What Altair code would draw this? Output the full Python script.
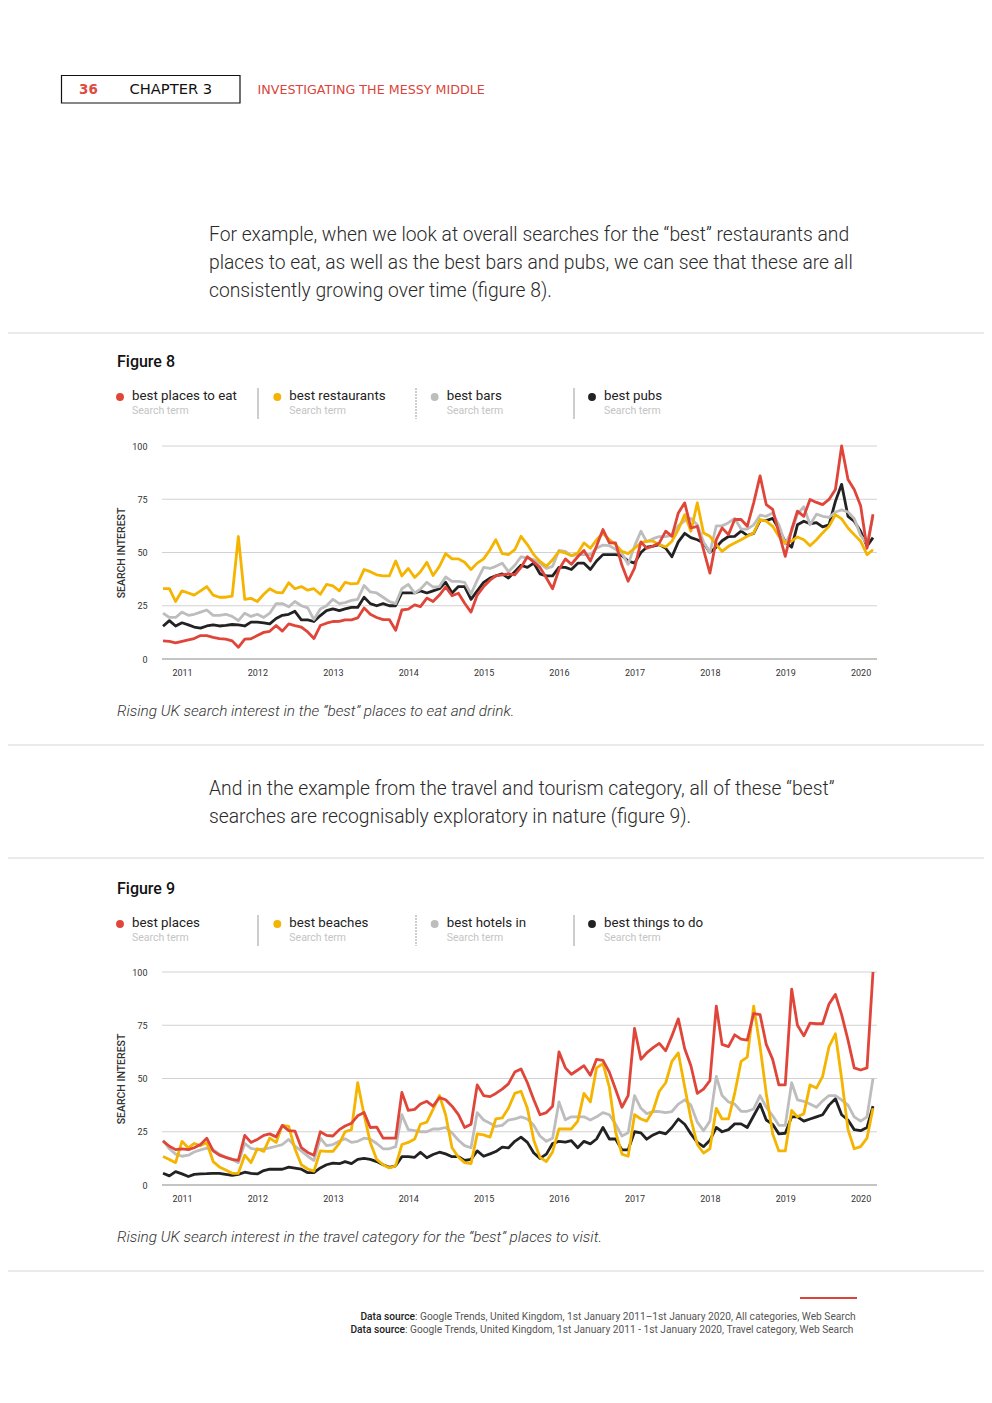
import altair as alt
import pandas as pd

# ------------------------------------------------------------------ data
START = "2010-10-01"          # first monthly point
N_MONTHS = 114
YEAR_TICKS = list(range(2011, 2021))
Y_TICKS = [0, 25, 50, 75, 100]
GRID_TICKS = [25, 50, 75, 100]
BASE_TICK = [0]

TERMS8 = ["best places to eat", "best restaurants", "best bars", "best pubs"]
TERMS9 = ["best places", "best beaches", "best hotels in", "best things to do"]
COLORS = ["#e0453a", "#f4b400", "#bdbdbd", "#222222"]
SUBTITLE = "Search term"

places_to_eat = [
    8.5, 8.3, 7.6, 8.3, 9, 9.6, 11, 11, 10.2, 9.6,
    9.3, 8.5, 5.5, 9.3, 9.5, 11, 12.5, 13, 15.7, 13.1,
    16.5, 15.7, 15, 12.7, 9.6, 15.7, 16.8, 17.6, 17.7, 18.4,
    18.4, 19.3, 24, 21, 19.5, 18.5, 18.5, 13.5, 23, 23.4,
    25.4, 24.6, 28.6, 27, 30, 33.8, 29.7, 30.9, 26.2, 22,
    30, 34, 37, 39, 39.5, 40, 39.5, 43, 48, 45.5,
    43, 38, 33, 42, 47, 44.5, 48, 51, 46, 53,
    60.8, 54.5, 54.5, 44, 36.5, 42.7, 55, 52, 53, 54.5,
    60, 57.6, 68.6, 73.3, 61.5, 62.3, 51.3, 40.3, 56, 61.5,
    58.4, 65.5, 65.5, 62.3, 73.3, 86, 72.5, 70.2, 59.2, 48.2,
    60.8, 69.4, 67, 74.9, 73.5, 72.5, 74.9, 79.6, 100, 84.3,
    79.6, 72, 52, 68]
restaurants = [
    33, 33, 27, 32, 31, 30, 32, 34, 30, 29,
    29, 29.5, 57.5, 28, 28.5, 27, 30.4, 33, 31.3, 31,
    35.8, 33, 34, 32.3, 33, 30.4, 35, 34.3, 32, 36,
    35.3, 35.5, 42, 41, 39.5, 39, 39, 46, 39, 42.5,
    38.3, 41, 45.4, 39.2, 43.5, 49.5, 47, 47, 45.4, 42,
    45, 47, 51.3, 56, 49.5, 49, 51.3, 57.6, 53.7, 49,
    45.8, 43.5, 46.6, 50.5, 49.8, 48.5, 49.8, 54.5, 52, 56,
    59, 56, 53.7, 50.5, 49.5, 52, 54.5, 55.3, 55.3, 53.7,
    52.6, 55.3, 60.8, 67.8, 60, 73.3, 59.2, 57.6, 53.7, 50.5,
    52.9, 54.5, 56, 57.6, 59.2, 65.5, 64.7, 62.3, 57.6, 54.5,
    55.3, 57.3, 56, 53.2, 56, 59.2, 62.3, 67.8, 65.8, 61.5,
    58.4, 55.3, 49, 51.3]
bars = [
    21.5, 19.5, 19.5, 22, 20.5, 21, 22, 23, 20.5, 20.5,
    21, 20, 18, 21.5, 20, 21, 19.5, 21.5, 26, 26,
    24.5, 27, 25, 24, 18.5, 23.5, 25, 28, 26, 26.5,
    27.5, 28, 34.5, 31.5, 31, 29, 27, 26, 33, 35,
    31, 32.8, 36, 33.8, 34, 38.5, 36.4, 36.4, 36, 30.5,
    37, 43, 42.5, 43.5, 45, 41, 44, 48, 47.5, 46.6,
    45, 42.5, 43.5, 51, 50.5, 48.5, 49, 49, 49, 52,
    53.5, 53.2, 51.5, 49.5, 44.5, 53, 60, 55, 56.5, 57.5,
    57.5, 58, 62.5, 65, 66, 63, 55, 50, 62.5, 62.5,
    64, 66, 61, 61, 63, 67.5, 67, 68.5, 63, 54,
    60, 68, 71.5, 63, 68, 67, 66.5, 69, 70, 69,
    66, 58, 54, 67]
pubs = [
    15.4, 18, 15.5, 17, 16, 15, 14.5, 15.5, 16, 15.5,
    15.8, 16.2, 16, 15.5, 17.3, 17.3, 17, 16.5, 19, 20.5,
    21, 22.4, 18.4, 18.4, 17.6, 20.4, 22.7, 23.5, 22.7, 23.5,
    24.2, 24.2, 29, 26, 25, 26, 25, 25, 31, 31,
    31, 32, 31, 32, 33, 36, 31, 34, 34, 28,
    32, 36, 38, 39, 40, 38, 41, 44, 43, 45,
    40, 39, 39, 43, 43, 42, 45, 45, 42, 46,
    49, 49, 49, 48.5, 46, 45, 50, 52.5, 53, 53.7,
    52, 48, 55, 59, 57, 56, 54.5, 50, 52.5, 55.5,
    57.5, 57.6, 60, 58, 59, 65, 65, 66, 61, 55,
    52.5, 63, 64.7, 63.5, 64, 62, 63, 74, 82, 67,
    64.7, 60, 53, 57]

places = [
    20.6, 18.2, 16.6, 17, 16.6, 17.5, 19, 22, 16, 14,
    13, 12, 11.6, 23.3, 20, 21.4, 23.3, 24, 22.6, 28,
    25.5, 25.3, 17.5, 15.3, 14, 25, 23.3, 23, 26, 27.7,
    29, 32.5, 34, 27, 27.2, 22, 22, 22, 43.5, 35,
    35.5, 38, 39.3, 37, 41, 40, 37, 33, 27, 28.5,
    47, 42, 41.5, 43, 45, 47.5, 53, 54.5, 48, 40,
    33, 34, 37, 62.5, 55, 52, 54, 56, 51.5, 59,
    58.5, 53, 45, 36.5, 42, 73.5, 59, 62, 64.5, 66.5,
    63, 70, 78, 64, 56, 43, 45, 49, 84, 66,
    65, 70.5, 68.5, 68, 80.5, 80, 66, 59, 47, 47,
    92, 75, 70, 76, 75.7, 75.7, 85, 89.5, 80, 68,
    55, 54, 55, 100]
beaches = [
    13.4, 12, 10.5, 20.5, 17.4, 19.5, 18.5, 19.8, 11, 8.5,
    7, 5.5, 5.5, 14, 10.5, 17, 15.8, 22, 20, 28,
    27.5, 17, 9.5, 7.5, 6.5, 16, 15.8, 15.8, 19.5, 25,
    26, 48, 33, 20, 12, 9.5, 8, 9, 19, 20,
    21.6, 28.5, 29.5, 35.5, 42, 33, 17.5, 13, 10.5, 10,
    24, 23.5, 22.5, 31, 31.5, 36, 43, 44, 36, 21,
    13, 11, 15.5, 26.3, 26.3, 26.3, 30, 43, 39, 55,
    57, 46, 25, 14.5, 13.5, 33, 31, 30, 35, 44,
    48, 58, 62, 46, 31, 19, 15, 17, 36, 31,
    31, 43, 58, 60, 84, 65, 43, 24, 16, 16,
    35, 32, 33.5, 47, 45.5, 51, 65, 71, 50, 26,
    17, 18, 22, 36]
hotels_in = [
    21, 17, 14.5, 13.5, 14, 15.5, 16.5, 17.3, 16.5, 14.5,
    13, 12, 10.5, 19.5, 17.2, 16.6, 16.9, 17.4, 18.2, 19,
    21.4, 18.2, 16, 13.5, 11.5, 22, 18.5, 19, 20.5, 21.7,
    20, 20.5, 22, 21.5, 19.5, 17, 17, 18, 33, 26,
    25.5, 25, 25, 26.3, 26.3, 27, 24.5, 21, 18.5, 17.5,
    34, 30.5, 29, 27.5, 28, 30.5, 31, 32, 31, 28,
    23, 20.5, 22, 39, 30.6, 32, 32, 32, 30.5, 32,
    34, 33, 28.5, 23, 24.5, 42, 36, 33.5, 34.5, 34.5,
    34, 34.5, 38, 40, 37.5, 29.5, 25.5, 30, 51, 42,
    39, 38, 34.6, 34.6, 35.7, 42, 36.5, 32.5, 28, 28,
    48, 40, 39.3, 38, 36.5, 39.5, 42, 42, 40, 37.5,
    32, 30, 32, 50]
things_to_do = [
    5.5, 4.3, 6.3, 5.2, 4, 5, 5.2, 5.3, 5.5, 5.5,
    5, 4.5, 5, 6, 5.5, 5.2, 6.8, 7.4, 7.4, 7.4,
    8.4, 7.9, 7.4, 5.8, 5.8, 8, 9.5, 10.3, 10, 11,
    10, 12, 12.5, 12, 11, 9.5, 8.3, 9, 13.3, 13.3,
    13, 15.4, 12.8, 14.3, 15.4, 14.6, 13.3, 13.3, 11.5, 12,
    16, 13.5, 14.6, 15.7, 17.8, 17.4, 20.5, 22.5, 20, 15,
    12.5, 14.5, 19.5, 20.5, 20.1, 20.8, 17.5, 20.5, 19.3, 21.6,
    27, 21.6, 21.6, 16.5, 16.5, 25, 24.5, 21.5, 23.5, 24.8,
    24, 27, 31, 28.5, 24, 20, 18, 21, 27, 25,
    26, 28.7, 28.7, 27, 32.5, 38, 30.5, 28.5, 24, 24.3,
    32, 32, 30, 31, 32, 33, 37.5, 40.5, 33, 30.5,
    26, 25.5, 27, 37]

# page texts
HEADER_NUM = "36"
HEADER_CHAPTER = "CHAPTER 3"
HEADER_SECTION = "INVESTIGATING THE MESSY MIDDLE"
PARA1 = ["For example, when we look at overall searches for the \u201cbest\u201d restaurants and",
         "places to eat, as well as the best bars and pubs, we can see that these are all",
         "consistently growing over time (figure 8)."]
PARA2 = ["And in the example from the travel and tourism category, all of these \u201cbest\u201d",
         "searches are recognisably exploratory in nature (figure 9)."]
FIG8 = "Figure 8"
FIG9 = "Figure 9"
YTITLE = "SEARCH INTEREST"
CAP8 = "Rising UK search interest in the \u201cbest\u201d places to eat and drink."
CAP9 = "Rising UK search interest in the travel category for the \u201cbest\u201d places to visit."
SRC_LABEL = "Data source"
SRC1 = ": Google Trends, United Kingdom, 1st January 2011\u20131st January 2020, All categories, Web Search"
SRC2 = ": Google Trends, United Kingdom, 1st January 2011 - 1st January 2020, Travel category, Web Search"

W, H = 976, 1370
FONT = "Roboto"
HFONT = "DejaVu Sans"
RED = "#d9453b"


# ------------------------------------------------------------------ helpers
def txt(s, x, y, size, color="#222222", weight="normal", style="normal",
        align="left", angle=0, font=FONT):
    kw = dict(align=align, baseline="middle", fontSize=size, color=color,
              fontWeight=weight, fontStyle=style, font=font)
    if angle:
        kw["angle"] = angle
    return alt.Chart(pd.DataFrame({"t": [s]})).mark_text(**kw).encode(
        text="t:N", x=alt.value(x), y=alt.value(y))


def hline(x1, x2, y, color, w):
    return alt.Chart(pd.DataFrame({"k": [0]})).mark_rule(
        color=color, strokeWidth=w).encode(
        x=alt.value(x1), x2=alt.value(x2), y=alt.value(y))


def vline(x, y1, y2, color, w, dash=None):
    kw = dict(color=color, strokeWidth=w)
    if dash:
        kw["strokeDash"] = dash
    return alt.Chart(pd.DataFrame({"k": [0]})).mark_rule(**kw).encode(
        x=alt.value(x), y=alt.value(y1), y2=alt.value(y2))


def long_df(terms, series):
    dates = pd.date_range(START, periods=N_MONTHS, freq="MS")
    frames = []
    for t, s in list(zip(terms, series))[::-1]:
        frames.append(pd.DataFrame({"date": dates, "value": s, "term": t}))
    return pd.concat(frames, ignore_index=True)


def legend_layers(terms, y_lab, y_sub, y_dot, y_s1, y_s2):
    ldf = pd.DataFrame({"term": terms, "sub": [SUBTITLE] * len(terms)})
    dots = alt.Chart(ldf).mark_point(filled=True, opacity=1, size=62, shape="circle").encode(
        x=alt.X("term:N", scale=alt.Scale(type="point", domain=terms, range=[112, 584], padding=0), axis=None),
        y=alt.value(y_dot),
        color=alt.Color("term:N", scale=alt.Scale(domain=terms, range=COLORS), legend=None))
    xl = alt.X("term:N", scale=alt.Scale(type="point", domain=terms, range=[124, 596], padding=0), axis=None)
    labs = alt.Chart(ldf).mark_text(align="left", baseline="middle", fontSize=13.3,
                                    color="#222222", font=FONT).encode(
        x=xl, y=alt.value(y_lab), text="term:N")
    subs = alt.Chart(ldf).mark_text(align="left", baseline="middle", fontSize=10.5,
                                    color="#c4c4c4", font=FONT).encode(
        x=xl, y=alt.value(y_sub), text="sub:N")
    seps = [vline(250, y_s1, y_s2, "#bdbdbd", 1.5),
            vline(408, y_s1, y_s2, "#bdbdbd", 1.5, dash=[2, 1]),
            vline(566, y_s1, y_s2, "#bdbdbd", 1.5)]
    return [dots, labs, subs] + seps


def chart_layers(terms, series, y0, y100, title_y):
    df = long_df(terms, series)
    yscale = alt.Scale(domain=[0, 100], range=[y0, y100])
    grid = alt.Chart(pd.DataFrame({"v": GRID_TICKS})).mark_rule(color="#d2d2d2", strokeWidth=1).encode(
        y=alt.Y("v:Q", scale=yscale, axis=None), x=alt.value(154), x2=alt.value(869))
    base = alt.Chart(pd.DataFrame({"v": BASE_TICK})).mark_rule(color="#c4c4c4", strokeWidth=2.2).encode(
        y=alt.Y("v:Q", scale=yscale, axis=None), x=alt.value(154), x2=alt.value(869))
    lines = alt.Chart(df).mark_line(strokeWidth=2.8, strokeJoin="round").encode(
        x=alt.X("date:T", scale=alt.Scale(range=[155, 865]),
                axis=alt.Axis(orient="bottom",
                              values=[alt.DateTime(year=y, month=1, date=1) for y in YEAR_TICKS],
                              format="%Y", grid=False, domain=False, ticks=False, tickSize=0,
                              labelPadding=9, offset=y0 - H, labelFontSize=9,
                              labelColor="#333333", labelFont=FONT, labelFlush=False,
                              labelOverlap=False, title=None)),
        y=alt.Y("value:Q", scale=yscale,
                axis=alt.Axis(orient="left", values=Y_TICKS, grid=False, domain=False,
                              ticks=False, tickSize=0, labelPadding=0, offset=-139,
                              labelFontSize=9, labelColor="#333333", labelFont=FONT,
                              title=None)),
        color=alt.Color("term:N", scale=alt.Scale(domain=terms, range=COLORS), legend=None),
    )
    ytitle = txt(YTITLE, 113.5, title_y, 10.5, color="#333333", weight=500, angle=270,
                 align="center")
    return [grid, base, lines, ytitle]


# ------------------------------------------------------------------ page
layers = []
# header
layers.append(alt.Chart(pd.DataFrame({"k": [0]})).mark_rect(
    fillOpacity=0, stroke="#111111", strokeWidth=1.2).encode(
    x=alt.value(53.5), x2=alt.value(232), y=alt.value(67.5), y2=alt.value(95)))
layers.append(txt(HEADER_NUM, 80.5, 81.5, 13.5, color="#e04a3f", weight="bold",
                  align="center", font=HFONT))
layers.append(txt(HEADER_CHAPTER, 121.5, 81.5, 14.7, color="#111111", font=HFONT))
layers.append(txt(HEADER_SECTION, 249.5, 81.5, 12.7, color=RED, font=HFONT))

# paragraph 1
for i, line in enumerate(PARA1):
    layers.append(txt(line, 201, 227 + 28 * i, 19.3, color="#2a2a2a", weight=300))
layers.append(hline(0, W, 325, "#d5d5d5", 1))

# figure 8
layers.append(txt(FIG8, 109, 354, 16, color="#111111", weight=500))
layers += legend_layers(TERMS8, 388, 403, 389, 380, 411)
layers += chart_layers(TERMS8, [places_to_eat, restaurants, bars, pubs], 651, 438, 545)
layers.append(txt(CAP8, 109, 703, 15.3, color="#333333", style="italic", weight=300))
layers.append(hline(0, W, 737, "#d5d5d5", 1))

# paragraph 2
for i, line in enumerate(PARA2):
    layers.append(txt(line, 201, 781 + 28 * i, 19.3, color="#2a2a2a", weight=300))
layers.append(hline(0, W, 850, "#d5d5d5", 1))

# figure 9
layers.append(txt(FIG9, 109, 881, 16, color="#111111", weight=500))
layers += legend_layers(TERMS9, 915, 930, 916, 907, 938)
layers += chart_layers(TERMS9, [places, beaches, hotels_in, things_to_do], 1177, 964, 1071)
layers.append(txt(CAP9, 109, 1229, 15.3, color="#333333", style="italic", weight=300))
layers.append(hline(0, W, 1263, "#d5d5d5", 1))

# footer
layers.append(hline(792, 849, 1290, RED, 2))
layers.append(txt(SRC_LABEL, 407, 1309, 10.2, color="#222222", weight=500, align="right"))
layers.append(txt(SRC1, 407, 1309, 10.2, color="#555555"))
layers.append(txt(SRC_LABEL, 397, 1322, 10.2, color="#222222", weight=500, align="right"))
layers.append(txt(SRC2, 397, 1322, 10.2, color="#555555"))

chart = alt.layer(*layers).resolve_scale(
    x="independent", y="independent", color="independent"
).properties(
    width=W, height=H, padding=0, background="white",
    autosize=alt.AutoSizeParams(type="none"),
).configure_view(stroke=None)

chart.save("out.html", embed_options={"renderer": "svg", "actions": False})
